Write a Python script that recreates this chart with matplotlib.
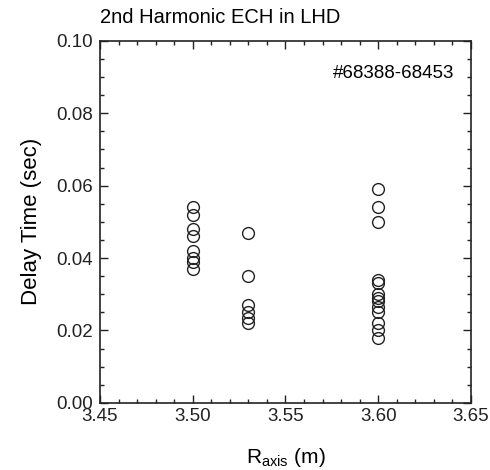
import matplotlib
matplotlib.use("Agg")
import matplotlib.pyplot as plt
from matplotlib.ticker import MultipleLocator

plt.rcParams['font.family'] = ['Liberation Sans', 'DejaVu Sans']

r_350 = [0.054, 0.052, 0.048, 0.046, 0.042, 0.040, 0.039, 0.037]
r_353 = [0.047, 0.035, 0.027, 0.025, 0.0235, 0.022]
r_360 = [0.059, 0.054, 0.050, 0.034, 0.033, 0.030, 0.029, 0.028, 0.0265, 0.025, 0.022, 0.020, 0.018]
x_positions = [3.50, 3.53, 3.60]

fig = plt.figure(figsize=(4.9, 4.7), dpi=100)
ax = fig.add_axes([0.204, 0.143, 0.757, 0.770])

for xv, ys in zip(x_positions, [r_350, r_353, r_360]):
    ax.plot([xv] * len(ys), ys, 'o', mfc='none', mec='#222222', ms=8.5, mew=1.0, ls='none')

ax.set_xlim(3.45, 3.65)
ax.set_ylim(0.0, 0.10)
ax.xaxis.set_major_locator(MultipleLocator(0.05))
ax.xaxis.set_minor_locator(MultipleLocator(0.01))
ax.yaxis.set_major_locator(MultipleLocator(0.02))
ax.yaxis.set_minor_locator(MultipleLocator(0.005))
ax.xaxis.set_major_formatter(plt.FormatStrFormatter('%.2f'))
ax.yaxis.set_major_formatter(plt.FormatStrFormatter('%.2f'))
ax.tick_params(which='both', direction='in', top=True, right=True, width=1.0, colors='#222222', labelsize=13.5)
ax.tick_params(axis='x', pad=4)
ax.tick_params(axis='y', pad=5)
ax.tick_params(which='major', length=6)
ax.tick_params(which='minor', length=3)
for s in ax.spines.values():
    s.set_linewidth(1.2)
    s.set_color('#222222')

ax.set_xlabel('R$_{\\mathregular{axis}}$ (m)', fontsize=15, labelpad=15)
ax.set_ylabel('Delay Time (sec)', fontsize=16, labelpad=10)
ax.set_title('2nd Harmonic ECH in LHD', loc='left', fontsize=14.5, pad=13)
ax.text(0.955, 0.91, '#68388-68453', transform=ax.transAxes, ha='right', va='center', fontsize=13.5)

fig.savefig('out.png', dpi=100)
